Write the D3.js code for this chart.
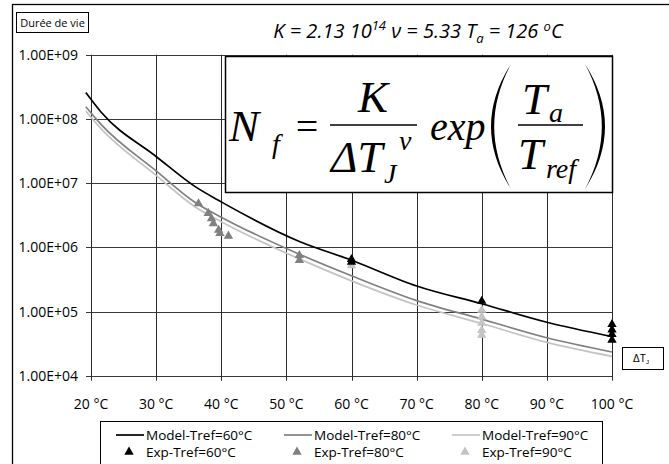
<!DOCTYPE html>
<html lang="fr">
<head>
<meta charset="UTF-8">
<title>Durée de vie</title>
<script src="https://d3js.org/d3.v7.min.js"></script>
<style>
  body { margin: 0; background: #fff; }
  svg { display: block; font-family: "Open Sans", sans-serif; }
  .frm { font-family: "Liberation Serif", serif; font-style: italic; }
</style>
</head>
<body>
<script>
// model curves
const dT = [19.2, 21.5, 30, 36, 40, 52, 60, 70, 80, 90, 100];
const model60 = [2.57e8, 1.29e8, 2.6e7, 8.8e6, 5.1e6, 1.23e6, 6.3e5, 2.5e5, 1.32e5, 6.8e4, 4.07e4];
const model80 = [1.55e8, 8.3e7, 1.55e7, 5.0e6, 2.95e6, 7.8e5, 3.6e5, 1.48e5, 7.6e4, 3.9e4, 2.34e4];
const model90 = [1.32e8, 7.1e7, 1.32e7, 4.25e6, 2.5e6, 6.6e5, 3.0e5, 1.26e5, 6.5e4, 3.3e4, 2.0e4];

// experimental points
const exp60X = [60, 60, 80, 100, 100, 100, 100];
const exp60Y = [6.5e5, 5.9e5, 1.45e5, 6.3e4, 5.2e4, 4.4e4, 3.6e4];
const exp80X = [36.5, 38.0, 38.5, 38.8, 39.6, 39.8, 41.1, 52, 52];
const exp80Y = [4.8e6, 3.4e6, 2.8e6, 2.35e6, 1.85e6, 1.65e6, 1.5e6, 7.5e5, 6.3e5];
const exp90X = [60, 80, 80, 80, 80, 80];
const exp90Y = [5.2e5, 1.05e5, 8.3e4, 6.6e4, 5.1e4, 4.3e4];

const xTicks = [20, 30, 40, 50, 60, 70, 80, 90, 100];
const yTicks = [1e4, 1e5, 1e6, 1e7, 1e8, 1e9];
const legendNames = ["Model-Tref=60°C", "Model-Tref=80°C", "Model-Tref=90°C",
                     "Exp-Tref=60°C", "Exp-Tref=80°C", "Exp-Tref=90°C"];
const colors = ["#000000", "#808080", "#c4c4c4"];

const W = 669, H = 464;
const svg = d3.select("body").append("svg").attr("width", W).attr("height", H);

// outer frame (only left and top edges visible)
svg.append("rect").attr("x", 12.5).attr("y", 4.5).attr("width", 700).attr("height", 500)
  .attr("fill", "none").attr("stroke", "#000").attr("stroke-width", 1.3);

const x = d3.scaleLinear().domain([20, 100]).range([91, 612]);
const y = d3.scaleLog().domain([1e4, 1e9]).range([375.7, 54.7]);

// grid
svg.append("g").selectAll("line").data(yTicks).join("line")
  .attr("x1", 86).attr("x2", x(100))
  .attr("y1", d => Math.round(y(d)) + 0.5).attr("y2", d => Math.round(y(d)) + 0.5)
  .attr("stroke", "#3a3a3a");
svg.append("g").selectAll("line").data(xTicks).join("line")
  .attr("x1", d => Math.round(x(d)) + 0.5).attr("x2", d => Math.round(x(d)) + 0.5)
  .attr("y1", y(1e9)).attr("y2", y(1e4) + 5)
  .attr("stroke", "#2a2a2a");

// tick labels
svg.append("g").selectAll("text").data(yTicks).join("text")
  .attr("x", 78).attr("y", d => y(d) + 5)
  .attr("text-anchor", "end").attr("font-size", 14)
  .text(d => d3.format(".2e")(d).replace("e+", "E+0").toUpperCase());
svg.append("g").selectAll("text").data(xTicks).join("text")
  .attr("x", d => x(d)).attr("y", 409)
  .attr("text-anchor", "middle").attr("font-size", 14)
  .text(d => d + " °C");

// curves
const line = d3.line().x(d => x(d[0])).y(d => y(d[1])).curve(d3.curveMonotoneX);
[model90, model80, model60].forEach((m, i) => {
  svg.append("path").datum(dT.map((t, j) => [t, m[j]]))
    .attr("fill", "none").attr("stroke", colors[2 - i]).attr("stroke-width", 1.7)
    .attr("d", line);
});

// experimental triangles
const tri = d3.symbol().type(d3.symbolTriangle).size(38);
function points(xs, ys, c) {
  svg.append("g").selectAll("path").data(xs.map((v, i) => [v, ys[i]])).join("path")
    .attr("d", tri).attr("fill", c)
    .attr("transform", d => `translate(${x(d[0])},${y(d[1])})`);
}
points(exp80X, exp80Y, colors[1]);
points(exp90X, exp90Y, colors[2]);
points(exp60X, exp60Y, colors[0]);

// "Durée de vie" label
svg.append("rect").attr("x", 16.5).attr("y", 12.5).attr("width", 72).attr("height", 20)
  .attr("fill", "#fff").attr("stroke", "#000");
svg.append("text").attr("x", 52.5).attr("y", 27).attr("text-anchor", "middle")
  .attr("font-size", 11).text("Durée de vie");

// parameters line
const title = svg.append("text").attr("x", 418).attr("y", 38).attr("text-anchor", "middle")
  .attr("font-size", 20).attr("font-style", "italic");
title.append("tspan").text("K = 2.13 10");
title.append("tspan").attr("font-size", 13).attr("dy", -8).text("14");
title.append("tspan").attr("dy", 8).text(" ν = 5.33 T");
title.append("tspan").attr("font-size", 13).attr("dy", 5).text("a");
title.append("tspan").attr("dy", -5).text(" = 126 ");
title.append("tspan").attr("font-size", 13).attr("dy", -7).text("o");
title.append("tspan").attr("dy", 7).text("C");

// formula box
svg.append("rect").attr("x", 225.5).attr("y", 56.5).attr("width", 387).attr("height", 136)
  .attr("fill", "#fff").attr("stroke", "#000").attr("stroke-width", 1.5);
const fz = 45, fe = 40, fs = 28;
const f = svg.append("g").attr("class", "frm");
function ft(tx, ty, s, str, opts) {
  const t = f.append("text").attr("x", tx).attr("y", ty).attr("font-size", s).text(str);
  if (opts === "up") t.attr("font-style", "normal");
  if (opts === "mid") t.attr("text-anchor", "middle");
  return t;
}
ft(229, 141, fz, "N");
ft(272, 153, fs, "f");
ft(307, 140, fe, "=", "up").attr("text-anchor", "middle");
ft(373, 112, fz, "K", "mid");
ft(331, 172, fz, "ΔT");
ft(384, 183, fs, "J");
ft(399, 150, fs, "ν");
ft(430, 140, fe, "exp");
ft(522, 114, fz, "T");
ft(549, 122, fs, "a");
ft(518, 169, fz, "T");
ft(546, 178, fs, "ref");
[[330, 417], [518, 583]].forEach(([a, b]) => {
  f.append("line").attr("x1", a).attr("x2", b).attr("y1", 125).attr("y2", 125)
    .attr("stroke", "#000").attr("stroke-width", 1.6);
});
function paren(xo, xe, t, b, w) {
  const m = (t + b) / 2, c1 = 2 * xo - xe, c2 = 2 * (xo + w) - xe;
  f.append("path").attr("fill", "#000")
    .attr("d", `M${xe},${t} Q${c1},${m} ${xe},${b} Q${c2},${m} ${xe},${t}Z`);
}
paren(491, 511, 64, 189, 3.2);
paren(605, 585, 64, 189, -3.2);

// ΔTJ label
svg.append("rect").attr("x", 622.5).attr("y", 347.5).attr("width", 41).attr("height", 22)
  .attr("fill", "#fff").attr("stroke", "#000");
const dl = svg.append("text").attr("x", 641).attr("y", 362).attr("text-anchor", "middle")
  .attr("font-family", "Liberation Sans").attr("font-size", 10);
dl.append("tspan").text("ΔT");
dl.append("tspan").attr("font-size", 6).attr("dy", 2).text("J");

// legend
svg.append("rect").attr("x", 100.5).attr("y", 421.5).attr("width", 502).attr("height", 60)
  .attr("fill", "#fff").attr("stroke", "#000");
const colX = [116, 284, 452];
legendNames.forEach((n, i) => {
  const c = i % 3, r = Math.floor(i / 3), ly = r === 0 ? 435 : 452;
  if (r === 0) {
    svg.append("line").attr("x1", colX[c]).attr("x2", colX[c] + 28).attr("y1", ly).attr("y2", ly)
      .attr("stroke", colors[c]).attr("stroke-width", 1.7);
  } else {
    svg.append("path").attr("d", tri).attr("fill", colors[c])
      .attr("transform", `translate(${colX[c] + 13},${ly})`);
  }
  svg.append("text").attr("x", colX[c] + 30).attr("y", ly + 4.5).attr("font-size", 13.5).text(n);
});
</script>
</body>
</html>
